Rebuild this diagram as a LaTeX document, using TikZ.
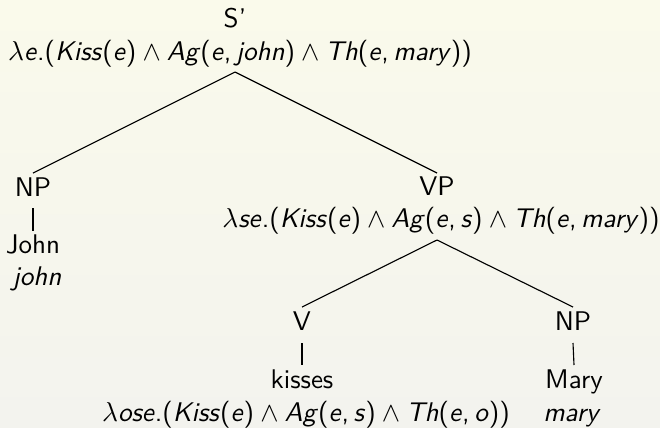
\documentclass[tikz,border=0pt]{standalone}
\usepackage{fontspec}
\usetikzlibrary{calc}
\definecolor{bgtop}{RGB}{250,250,235}
\definecolor{bgbot}{RGB}{243,243,238}
\newcommand{\Mv}[1]{\mbox{\sffamily\itshape #1\/}}
\newcommand{\Lp}{\mathopen{\mbox{\sffamily(}}}
\newcommand{\Rp}{\mathclose{\mbox{\sffamily)}}}
\newcommand{\Cm}{\mathpunct{\mbox{\sffamily,}}}
\newcommand{\Dt}{\mbox{\sffamily.}}
\begin{document}
\begin{tikzpicture}[x=0.4pt,y=-0.4pt,
  font=\sffamily\fontsize{10.8}{13}\selectfont,
  every node/.style={inner sep=0pt, anchor=base, text=black},
  edge/.style={line width=0.45pt, draw=black}]
\shade[top color=bgtop, bottom color=bgbot] (0,0) rectangle (660,427);
\useasboundingbox (0,0) rectangle (660,427);
% top
\node (Sp) at (235,27) {S'};
\node (Sf) at (240,60) {$\lambda\Mv{e}\Dt\Lp\Mv{Kiss}\Lp\Mv{e}\Rp\wedge\Mv{Ag}\Lp\Mv{e}\Cm\Mv{john}\Rp\wedge\Mv{Th}\Lp\Mv{e}\Cm\Mv{mary}\Rp\Rp$};
% left NP
\node (NPa) at (33,196) {NP};
\node (John) at (33,253) {John};
\node (john) at (37,285) {$\Mv{john}$};
% VP
\node (VP) at (437,195) {VP};
\node (VPf) at (441,227) {$\lambda\Mv{se}\Dt\Lp\Mv{Kiss}\Lp\Mv{e}\Rp\wedge\Mv{Ag}\Lp\Mv{e}\Cm\Mv{s}\Rp\wedge\Mv{Th}\Lp\Mv{e}\Cm\Mv{mary}\Rp\Rp$};
% V
\node (V) at (302,330) {V};
\node (kisses) at (302,388) {kisses};
\node (Vf) at (306,421) {$\lambda\Mv{ose}\Dt\Lp\Mv{Kiss}\Lp\Mv{e}\Rp\wedge\Mv{Ag}\Lp\Mv{e}\Cm\Mv{s}\Rp\wedge\Mv{Th}\Lp\Mv{e}\Cm\Mv{o}\Rp\Rp$};
% right NP
\node (NPb) at (573,330) {NP};
\node (Mary) at (574,388) {Mary};
\node (mary) at (572,421) {$\Mv{mary}$};
% edges
\draw[edge] ($(Sp.base)+(0,45)$) -- ($(NPa.base)+(0,-23)$);
\draw[edge] ($(Sp.base)+(0,45)$) -- ($(VP.base)+(0,-22)$);
\draw[edge] ($(VP.base)+(0,45)$) -- ($(V.base)+(0,-23)$);
\draw[edge] ($(VP.base)+(0,45)$) -- ($(NPb.base)+(0,-23)$);
\draw[edge] ($(NPa.base)+(0,12)$) -- ($(John.base)+(0,-22)$);
\draw[edge] ($(V.base)+(0,13)$) -- ($(kisses.base)+(0,-23)$);
\draw[edge] ($(NPb.base)+(0,13)$) -- ($(Mary.base)+(0,-23)$);
\end{tikzpicture}
\end{document}
